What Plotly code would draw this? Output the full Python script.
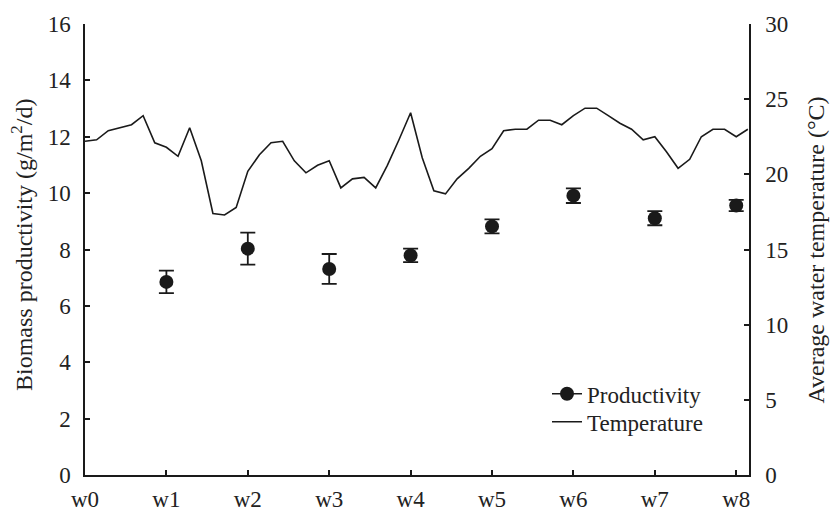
import plotly.graph_objects as go

# Weekly biomass productivity (g/m2/d) with standard deviation
weeks = [1, 2, 3, 4, 5, 6, 7, 8]
week_labels = ["w0", "w1", "w2", "w3", "w4", "w5", "w6", "w7", "w8"]
productivity = [6.85, 8.03, 7.31, 7.79, 8.82, 9.91, 9.11, 9.56]
productivity_sd = [0.40, 0.57, 0.53, 0.24, 0.25, 0.26, 0.25, 0.20]

# Daily average water temperature (°C), day 0 .. day 57
days = list(range(58))
temperature = [
    22.2, 22.3, 22.9, 23.1, 23.3, 23.9, 22.1,
    21.8, 21.2, 23.1, 20.9, 17.4, 17.3, 17.8,
    20.2, 21.3, 22.1, 22.2, 20.9, 20.1, 20.6,
    20.9, 19.1, 19.7, 19.8, 19.1, 20.6, 22.3,
    24.1, 21.1, 18.9, 18.7, 19.7, 20.4, 21.2,
    21.7, 22.9, 23.0, 23.0, 23.6, 23.6, 23.3,
    23.9, 24.4, 24.4, 23.9, 23.4, 23.0, 22.3,
    22.5, 21.5, 20.4, 21.0, 22.5, 23.0, 23.0,
    22.5, 23.0,
]

FONT = "Liberation Serif"
INK = "#1a1a1a"
TEXT = "#222"

fig = go.Figure()

# temperature line on the right axis, x expressed in weeks
fig.add_trace(go.Scatter(
    x=[d / 7 for d in days], y=temperature, yaxis="y2",
    mode="lines", name="Temperature", legend="legend2",
    line=dict(color=INK, width=1.6),
))

# productivity points with error bars
fig.add_trace(go.Scatter(
    x=weeks, y=productivity, mode="markers", showlegend=False,
    marker=dict(color=INK, size=14),
    error_y=dict(type="data", array=productivity_sd, color=INK,
                 thickness=1.8, width=7.5),
))

# legend entry drawn as line-through-marker
fig.add_trace(go.Scatter(
    x=[None], y=[None], mode="lines+markers", name="Productivity",
    legend="legend",
    line=dict(color=INK, width=1.6), marker=dict(color=INK, size=14),
))

axis_common = dict(
    showline=True, linecolor=INK, linewidth=1.5,
    ticks="inside", ticklen=5, tickwidth=1.5, tickcolor=INK,
    showgrid=False, zeroline=False,
    tickfont=dict(family=FONT, size=23, color=TEXT),
)

legend_common = dict(
    x=(547 - 85) / 664, xanchor="left", yanchor="middle",
    bgcolor="rgba(0,0,0,0)",
    font=dict(family=FONT, size=23, color=TEXT),
)

fig.update_layout(
    width=831, height=524,
    margin=dict(l=85, r=82, t=23, b=34),
    plot_bgcolor="white", paper_bgcolor="white",
    xaxis=dict(range=[0, 8.157], tickvals=list(range(9)),
               ticktext=week_labels, ticklabelstandoff=3, **axis_common),
    yaxis=dict(range=[0, 16], dtick=2, ticklabelstandoff=8, **axis_common),
    yaxis2=dict(range=[0, 30], dtick=5, overlaying="y", side="right",
                ticklabelstandoff=10, **axis_common),
    legend=dict(y=0.180, **legend_common),
    legend2=dict(y=0.118, **legend_common),
    annotations=[
        dict(text="Biomass productivity (g/m<sup>2</sup>/d)", textangle=-90,
             xref="paper", yref="paper", x=(22 - 85) / 664, y=0.51,
             xanchor="center", yanchor="middle", showarrow=False,
             font=dict(family=FONT, size=24, color=TEXT)),
        dict(text="Average water temperature (°C)", textangle=-90,
             xref="paper", yref="paper", x=(815 - 85) / 664, y=0.5,
             xanchor="center", yanchor="middle", showarrow=False,
             font=dict(family=FONT, size=24, color=TEXT)),
    ],
)

fig.write_html("out.html")
